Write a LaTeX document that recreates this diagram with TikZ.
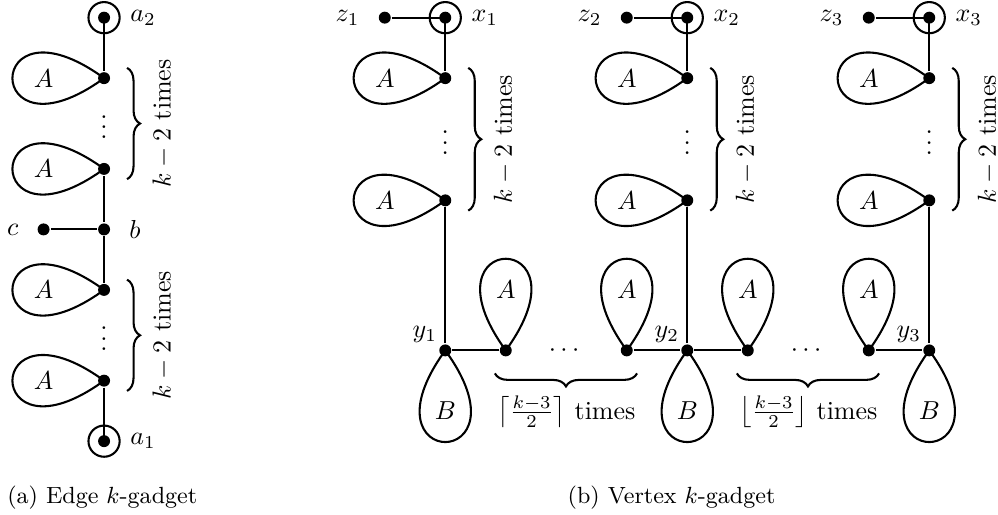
\documentclass[tikz,border=0pt]{standalone}
\usepackage{amsmath}
\usetikzlibrary{calc,decorations.pathreplacing}

\begin{document}
\begin{tikzpicture}[x=0.818cm,y=0.818cm,thick,
        vtx/.style={circle,fill,inner sep=0pt,minimum size=4.6pt},
        term/.style={circle,draw,inner sep=0pt,minimum size=12pt,
          path picture={\fill (path picture bounding box.center) circle (2.3pt);}},
        br/.style={decorate,decoration={brace,amplitude=5pt}},
        pics/lobe/.style={code={
          \draw (0,0) .. controls (2.02,1.47) and (2.02,-1.47) .. (0,0);
          \node (-l) at (1,0) {$#1$};}}]
        \useasboundingbox (0,0) rectangle (16.496,8.512);
        % (a) edge gadget
        \node[term,label=right:$a_2$] (a2) at (1.72,8.22) {};
        \node[vtx] (e1) at (1.72,7.22) {};
        \node[vtx] (e2) at (1.72,5.72) {};
        \node[vtx,label={[label distance=3.3pt]right:$b$}] (b) at (1.72,4.72) {};
        \node[vtx,label={[label distance=3.3pt]left:$c$}] (c) at (0.72,4.72) {};
        \node[vtx] (e3) at (1.72,3.72) {};
        \node[vtx] (e4) at (1.72,2.22) {};
        \node[term,label=right:$a_1$] (a1) at (1.72,1.22) {};
        \node (d1) at ($(e1)!0.5!(e2)+(0,0.07)$) {$\vdots$};
        \node (d2) at ($(e3)!0.5!(e4)+(0,0.07)$) {$\vdots$};
        \draw (a2.center) -- (e1) (e2) -- (b) -- (e3) (b) -- (c) (e4) -- (a1.center);
        \pic (le1) [rotate=180] at (e1) {lobe=A};
        \pic (le2) [rotate=180] at (e2) {lobe=A};
        \pic (le3) [rotate=180] at (e3) {lobe=A};
        \pic (le4) [rotate=180] at (e4) {lobe=A};
        \draw[br] ($(e1)+(0.38,0.17)$) -- ($(e2)+(0.38,-0.17)$);
        \draw[br] ($(e3)+(0.38,0.17)$) -- ($(e4)+(0.38,-0.17)$);
        \node[rotate=90] (ta1) at ($(e1)!0.5!(e2)+(0.97,0)$) {$k-2$ times};
        \node[rotate=90] (ta2) at ($(e3)!0.5!(e4)+(0.97,0)$) {$k-2$ times};
        \node (capa) at (1.69,0.28) {\small (a) Edge $k$-gadget};
        % (b) vertex gadget
        \node[vtx,label={[label distance=3.3pt]left:$z_1$}] (z1) at (6.36,8.22) {};
        \node[term,label=right:$x_1$] (x1) at (7.36,8.22) {};
        \node[vtx] (f1) at (7.36,7.22) {};
        \node[vtx] (f2) at (7.36,5.2) {};
        \node[vtx,label={[label distance=-3.5pt]above left:$y_1$}] (y1) at (7.36,2.72) {};
        \node[vtx] (h1) at (8.36,2.72) {};
        \node[vtx] (h2) at (10.36,2.72) {};
        \node[vtx,label={[label distance=3.3pt]left:$z_2$}] (z2) at (10.36,8.22) {};
        \node[term,label=right:$x_2$] (x2) at (11.36,8.22) {};
        \node[vtx] (f3) at (11.36,7.22) {};
        \node[vtx] (f4) at (11.36,5.2) {};
        \node[vtx,label={[label distance=-3.5pt]above left:$y_2$}] (y2) at (11.36,2.72) {};
        \node[vtx] (h3) at (12.36,2.72) {};
        \node[vtx] (h4) at (14.36,2.72) {};
        \node[vtx,label={[label distance=3.3pt]left:$z_3$}] (z3) at (14.36,8.22) {};
        \node[term,label=right:$x_3$] (x3) at (15.36,8.22) {};
        \node[vtx] (f5) at (15.36,7.22) {};
        \node[vtx] (f6) at (15.36,5.2) {};
        \node[vtx,label={[label distance=-3.5pt]above left:$y_3$}] (y3) at (15.36,2.72) {};
        \node (d3) at ($(f1)!0.5!(f2)+(0,0.07)$) {$\vdots$};
        \node (d4) at ($(f3)!0.5!(f4)+(0,0.07)$) {$\vdots$};
        \node (d5) at ($(f5)!0.5!(f6)+(0,0.07)$) {$\vdots$};
        \node (d6) at ($(h1)!0.5!(h2)$) {$\cdots$};
        \node (d7) at ($(h3)!0.5!(h4)$) {$\cdots$};
        \draw (z1) -- (x1.center) -- (f1) (f2) -- (y1) -- (h1) (h2) -- (y2) -- (h3) (h4) -- (y3);
        \draw (z2) -- (x2.center) -- (f3) (f4) -- (y2);
        \draw (z3) -- (x3.center) -- (f5) (f6) -- (y3);
        \pic (lf1) [rotate=180] at (f1) {lobe=A};
        \pic (lf2) [rotate=180] at (f2) {lobe=A};
        \pic (lf3) [rotate=180] at (f3) {lobe=A};
        \pic (lf4) [rotate=180] at (f4) {lobe=A};
        \pic (lf5) [rotate=180] at (f5) {lobe=A};
        \pic (lf6) [rotate=180] at (f6) {lobe=A};
        \pic (lh1) [rotate=90] at (h1) {lobe=A};
        \pic (lh2) [rotate=90] at (h2) {lobe=A};
        \pic (lh3) [rotate=90] at (h3) {lobe=A};
        \pic (lh4) [rotate=90] at (h4) {lobe=A};
        \pic (ly1) [rotate=-90] at (y1) {lobe=B};
        \pic (ly2) [rotate=-90] at (y2) {lobe=B};
        \pic (ly3) [rotate=-90] at (y3) {lobe=B};
        \draw[br] ($(f1)+(0.38,0.17)$) -- ($(f2)+(0.38,-0.17)$);
        \draw[br] ($(f3)+(0.38,0.17)$) -- ($(f4)+(0.38,-0.17)$);
        \draw[br] ($(f5)+(0.38,0.17)$) -- ($(f6)+(0.38,-0.17)$);
        \draw[br] ($(h2)+(0.17,-0.38)$) -- ($(h1)+(-0.18,-0.38)$);
        \draw[br] ($(h4)+(0.17,-0.38)$) -- ($(h3)+(-0.18,-0.38)$);
        \node[rotate=90] (tb1) at ($(f1)!0.5!(f2)+(0.97,0)$) {$k-2$ times};
        \node[rotate=90] (tb2) at ($(f3)!0.5!(f4)+(0.97,0)$) {$k-2$ times};
        \node[rotate=90] (tb3) at ($(f5)!0.5!(f6)+(0.97,0)$) {$k-2$ times};
        \node (tc1) at ($(h1)!0.5!(h2)+(0,-1.02)$) {$\left\lceil\frac{k-3}{2}\right\rceil$ times};
        \node (tc2) at ($(h3)!0.5!(h4)+(0,-1.02)$) {$\left\lfloor\frac{k-3}{2}\right\rfloor$ times};
        \node (capb) at (11.1,0.28) {\small (b) Vertex $k$-gadget};
      \end{tikzpicture}
\end{document}
